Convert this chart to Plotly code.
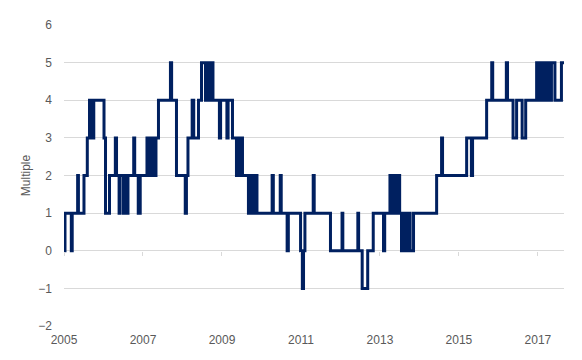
import plotly.graph_objects as go

# Dates (decimal years) at which the multiple changes, and the value from that date on
change_years = [
    2005.000, 2005.025, 2005.185, 2005.208, 2005.345, 2005.365, 2005.506, 2005.590,
    2005.646, 2005.678, 2005.704, 2005.729, 2005.754, 2006.013, 2006.051, 2006.152,
    2006.300, 2006.330, 2006.395, 2006.415, 2006.500, 2006.530, 2006.590, 2006.620,
    2006.765, 2006.790, 2006.880, 2006.930, 2007.101, 2007.152, 2007.190, 2007.228,
    2007.253, 2007.304, 2007.329, 2007.392, 2007.695, 2007.725, 2007.848, 2008.070,
    2008.100, 2008.139, 2008.245, 2008.285, 2008.405, 2008.481, 2008.582, 2008.608,
    2008.671, 2008.696, 2008.734, 2008.754, 2008.772, 2008.935, 2008.965, 2009.125,
    2009.155, 2009.266, 2009.367, 2009.392, 2009.430, 2009.468, 2009.519, 2009.670,
    2009.700, 2009.747, 2009.785, 2009.823, 2009.861, 2009.886, 2010.270, 2010.300,
    2010.475, 2010.500, 2010.650, 2010.680, 2010.990, 2011.035, 2011.065, 2011.100,
    2011.310, 2011.335, 2011.747, 2012.040, 2012.060, 2012.440, 2012.460, 2012.550,
    2012.690, 2012.830, 2013.090, 2013.120, 2013.253, 2013.291, 2013.316, 2013.354,
    2013.380, 2013.418, 2013.443, 2013.499, 2013.545, 2013.575, 2013.600, 2013.640,
    2013.715, 2013.745, 2013.765, 2013.850, 2014.435, 2014.560, 2014.585, 2015.195,
    2015.315, 2015.345, 2015.701, 2015.830, 2015.855, 2016.200, 2016.230, 2016.370,
    2016.460, 2016.600, 2016.690, 2016.967, 2017.025, 2017.051, 2017.114, 2017.139,
    2017.203, 2017.241, 2017.304, 2017.342, 2017.430, 2017.595, 2017.660,
]
multiple_values = [
    0, 1, 0, 1, 2, 1, 2, 3,
    4, 3, 4, 3, 4, 3, 1, 2,
    3, 2, 1, 2, 1, 2, 1, 2,
    3, 2, 1, 2, 3, 2, 3, 2,
    3, 2, 3, 4, 5, 4, 2, 1,
    2, 3, 4, 3, 4, 5, 4, 5,
    4, 5, 4, 5, 4, 3, 4, 3,
    4, 3, 2, 3, 2, 3, 2, 1,
    2, 1, 2, 1, 2, 1, 2, 1,
    2, 1, 0, 1, 0, -1, 0, 1,
    2, 1, 0, 1, 0, 1, 0, -1,
    0, 1, 0, 1, 2, 1, 2, 1,
    2, 1, 2, 1, 0, 1, 0, 1,
    0, 1, 0, 1, 2, 3, 2, 3,
    2, 3, 4, 5, 4, 5, 4, 3,
    4, 3, 4, 5, 4, 5, 4, 5,
    4, 5, 4, 5, 4, 5, 5,
]

year_ticks = [2005, 2007, 2009, 2011, 2013, 2015, 2017]
y_ticks = [-2, -1, 0, 1, 2, 3, 4, 5, 6]

x_range = [change_years[0], change_years[-1]]

fig = go.Figure()
fig.add_trace(go.Scatter(
    x=change_years, y=multiple_values, mode="lines",
    line=dict(color="#002060", width=3, shape="hv"),
    hoverinfo="skip", showlegend=False,
))
# invisible trace to host the tick-mark axis drawn at zero
fig.add_trace(go.Scatter(
    x=[change_years[0]], y=[0], mode="markers", xaxis="x2",
    marker=dict(opacity=0), hoverinfo="skip", showlegend=False,
))

font = dict(family="Liberation Sans, Arial, sans-serif", size=12, color="#595959")

# the page body adds an 8px offset, so the figure is sized to fit the window
fig.update_layout(
    width=574, height=352,
    margin=dict(l=56, r=18, t=10, b=34),
    paper_bgcolor="white", plot_bgcolor="white",
    font=font,
    xaxis=dict(
        range=x_range, tickmode="array", tickvals=year_ticks,
        ticktext=[str(v) for v in year_ticks],
        showgrid=False, zeroline=False, showline=False, ticks="",
        ticklabelstandoff=5,
        tickfont=font,
    ),
    xaxis2=dict(
        range=x_range, overlaying="x", anchor="free", position=0.25,
        tickmode="array", tickvals=year_ticks, showticklabels=False,
        ticks="outside", ticklen=4, tickwidth=1, tickcolor="#d9d9d9",
        showgrid=False, zeroline=False, showline=False,
    ),
    yaxis=dict(
        range=[-2, 6], tickmode="array", tickvals=y_ticks,
        showgrid=True, gridcolor="#d9d9d9", gridwidth=1,
        zeroline=False, showline=False, ticks="",
        ticklabelstandoff=11,
        title=dict(text="Multiple", font=font, standoff=5),
        tickfont=font,
    ),
)

fig.write_html("out.html")
